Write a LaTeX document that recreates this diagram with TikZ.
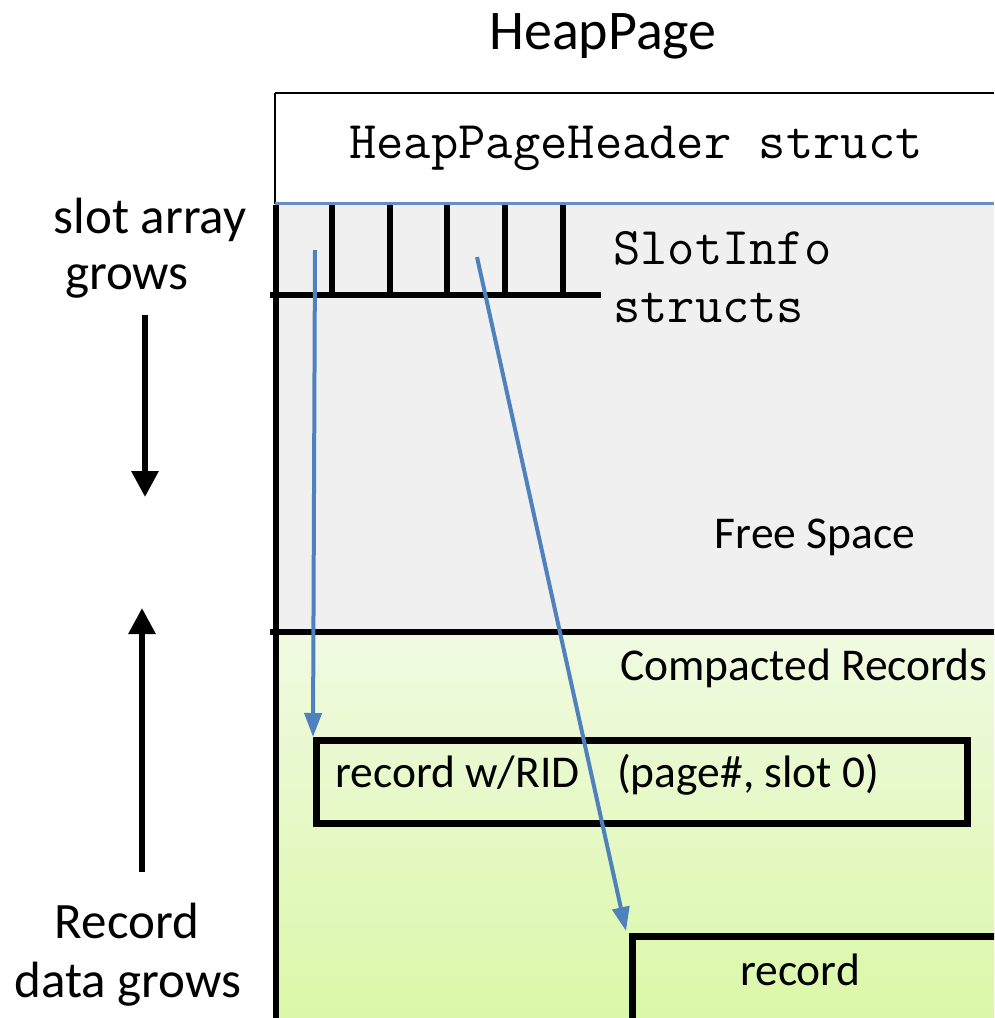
\documentclass[tikz,border=0pt]{standalone}
\usepackage{fontspec}
\setmainfont{Carlito}
\usetikzlibrary{arrows.meta}
\definecolor{slotgrey}{HTML}{F0F0F0}
\definecolor{greentop}{HTML}{F0FAE2}
\definecolor{greenbot}{HTML}{DBF8A8}
\definecolor{ptrblue}{HTML}{4F81BD}
\definecolor{hdrline}{HTML}{6A8CC0}
\tikzset{
  lbl/.style={inner sep=0pt, font=\fontsize{45.5}{54}\selectfont},
  sidelbl/.style={inner sep=0pt, font=\fontsize{51}{60}\selectfont},
  monolbl/.style={inner sep=0pt, align=left, font=\ttfamily\fontsize{53}{58}\selectfont},
  recbox/.style={draw=black, line width=6.5pt, inner sep=0pt},
  ptr/.style={ptrblue, line width=4pt, -{Triangle[length=24pt,width=17pt]}},
  growarrow/.style={black, line width=6pt, -{Triangle[length=26pt,width=26pt]}},
  thickline/.style={black, line width=6pt},
}
\begin{document}
\begin{tikzpicture}[x=1pt,y=-1pt]
\path[use as bounding box, clip] (0,0) rectangle (994,1018);
\fill[white] (0,0) rectangle (994,1018);
% page regions
\fill[slotgrey] (276,204) rectangle (994,632);
\shade[top color=greentop, bottom color=greenbot] (276,632) rectangle (994,1018);
% header
\draw[black, line width=2.5pt] (275,93) -- (994,93);
\draw[black, line width=2.5pt] (275,93) -- (275,204);
\draw[hdrline, line width=3pt] (275,203) -- (994,203);
\node[monolbl] (hdr) at (636,148) {HeapPageHeader struct};
% left border
\draw[thickline] (276,205) -- (276,1018);
% slot array
\foreach \x in {332,390,447,505,563} {
  \draw[black, line width=5.5pt] (\x,205) -- (\x,292);
}
\draw[black, line width=6.5pt] (270,295) -- (601,295);
\node[monolbl, anchor=west] (slotinfo) at (613,277) {SlotInfo\\structs};
% free space / divider
\draw[thickline] (270,632) -- (994,632);
\node[lbl] (free) at (815,537) {Free Space};
\node[lbl, anchor=west] (compact) at (620,668) {Compacted Records};
% records
\node[recbox, minimum width=651pt, minimum height=83pt, anchor=north west] (rec1) at (313,737) {};
\node[lbl, anchor=west] (rec1txt) at (335,775) {record w/RID\hspace{0.6em} (page\#, slot 0)};
\node[recbox, minimum width=420pt, minimum height=120pt, anchor=north west] (rec2) at (629,933) {};
\node[lbl] (rec2txt) at (800,970) {record};
% pointers
\coordinate (s0) at (315,250);
\coordinate (s3) at (477,257);
\draw[ptr] (s0) -- (rec1.north west);
\draw[ptr] (s3) -- ([xshift=-3pt,yshift=2pt]rec2.north west);
% title
\node[font=\fontsize{56}{66}\selectfont, inner sep=0pt] (title) at (603,36) {HeapPage};
% side labels
\node[sidelbl] (slotarr) at (150,220) {slot array};
\node[sidelbl] (slotgr) at (127,281) {grows};
\node[sidelbl] (recd) at (127,921) {Record};
\node[sidelbl] (datagr) at (128,984) {data grows};
\coordinate (dnA) at (145,315);
\coordinate (dnB) at (145,497);
\coordinate (upA) at (142,872);
\coordinate (upB) at (142,608);
\draw[growarrow] (dnA) -- (dnB);
\draw[growarrow] (upA) -- (upB);
\end{tikzpicture}
\end{document}
